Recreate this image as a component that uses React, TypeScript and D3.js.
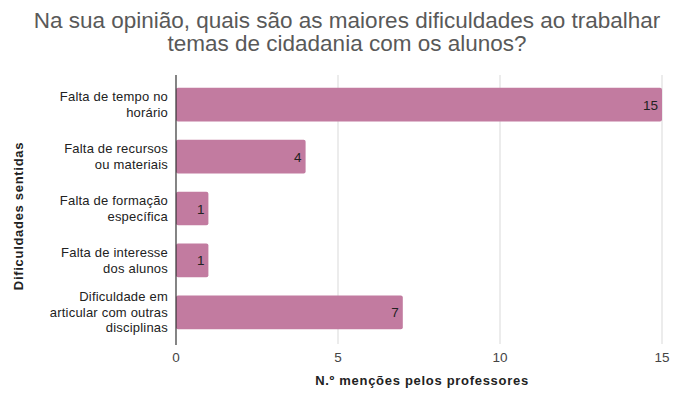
import React, { useEffect, useRef } from "react";
import * as d3 from "d3";

const categories = [
  "Falta de tempo no horário",
  "Falta de recursos ou materiais",
  "Falta de formação específica",
  "Falta de interesse dos alunos",
  "Dificuldade em articular com outras disciplinas",
];
const categoryLines = [
  ["Falta de tempo no", "horário"],
  ["Falta de recursos", "ou materiais"],
  ["Falta de formação", "específica"],
  ["Falta de interesse", "dos alunos"],
  ["Dificuldade em", "articular com outras", "disciplinas"],
];
const mentions = [15, 4, 1, 1, 7];
const xTicks = [0, 5, 10, 15];

export default function App() {
  const svgRef = useRef<SVGSVGElement>(null);

  useEffect(() => {
    const svg = d3.select(svgRef.current);
    svg.selectAll("*").remove();
    const font = "'Liberation Sans', Arial, sans-serif";

    var x = d3.scaleLinear().domain([0, 15]).range([176, 662]);
    var y = d3
      .scaleBand<string>()
      .domain(categories)
      .range([79, 338])
      .paddingInner(0.35)
      .paddingOuter(0.17);

    // title
    svg
      .append("text")
      .attr("x", 347)
      .attr("y", 28)
      .attr("text-anchor", "middle")
      .attr("font-family", font)
      .attr("font-size", 22.5)
      .attr("fill", "#595959")
      .selectAll("tspan")
      .data([
        "Na sua opinião, quais são as maiores dificuldades ao trabalhar",
        "temas de cidadania com os alunos?",
      ])
      .enter()
      .append("tspan")
      .attr("x", 347)
      .attr("dy", (d, i) => (i === 0 ? 0 : 23))
      .text((d) => d);

    // grid
    svg
      .selectAll(".grid")
      .data(xTicks.slice(1))
      .enter()
      .append("line")
      .attr("x1", (d) => x(d))
      .attr("x2", (d) => x(d))
      .attr("y1", 75)
      .attr("y2", 344)
      .attr("stroke", "#d9d9d9")
      .attr("stroke-width", 1);

    // bars
    svg
      .selectAll(".bar")
      .data(mentions)
      .enter()
      .append("rect")
      .attr("x", x(0))
      .attr("y", (d, i) => y(categories[i]) ?? 0)
      .attr("width", (d) => x(d) - x(0))
      .attr("height", y.bandwidth())
      .attr("rx", 2)
      .attr("fill", "#c27ba0");

    // value labels
    svg
      .selectAll(".val")
      .data(mentions)
      .enter()
      .append("text")
      .attr("x", (d) => x(d) - 4)
      .attr("y", (d, i) => (y(categories[i]) ?? 0) + y.bandwidth() / 2 + 5)
      .attr("text-anchor", "end")
      .attr("font-family", font)
      .attr("font-size", 13.5)
      .attr("fill", "#222")
      .text((d) => d);

    // axis line
    svg
      .append("line")
      .attr("x1", x(0))
      .attr("x2", x(0))
      .attr("y1", 75)
      .attr("y2", 345)
      .attr("stroke", "#333")
      .attr("stroke-width", 1.2);

    // category labels
    categoryLines.forEach((lines, i) => {
      const cy = (y(categories[i]) ?? 0) + y.bandwidth() / 2;
      const lh = 15.5;
      const top = cy - ((lines.length - 1) * lh) / 2 + 4.5;
      svg
        .append("text")
        .attr("text-anchor", "end")
        .attr("font-family", font)
        .attr("font-size", 13)
        .attr("letter-spacing", 0.2)
        .attr("fill", "#222")
        .selectAll("tspan")
        .data(lines)
        .enter()
        .append("tspan")
        .attr("x", 168)
        .attr("y", (d, j) => top + j * lh)
        .text((d) => d);
    });

    // x tick labels
    svg
      .selectAll(".tick")
      .data(xTicks)
      .enter()
      .append("text")
      .attr("x", (d) => x(d))
      .attr("y", 362)
      .attr("text-anchor", "middle")
      .attr("font-family", font)
      .attr("font-size", 13.5)
      .attr("fill", "#444")
      .text((d) => d);

    // axis titles
    svg
      .append("text")
      .attr("x", 422)
      .attr("y", 385)
      .attr("text-anchor", "middle")
      .attr("font-family", font)
      .attr("font-size", 13)
      .attr("font-weight", "bold")
      .attr("letter-spacing", 0.7)
      .attr("fill", "#222")
      .text("N.º menções pelos professores");

    svg
      .append("text")
      .attr("transform", "translate(23,216) rotate(-90)")
      .attr("text-anchor", "middle")
      .attr("font-family", font)
      .attr("font-size", 13)
      .attr("font-weight", "bold")
      .attr("letter-spacing", 0.7)
      .attr("fill", "#222")
      .text("Dificuldades sentidas");
  }, []);

  return (
    <svg
      ref={svgRef}
      width={675}
      height={400}
      style={{ position: "absolute", left: 0, top: 0, background: "#fff" }}
    ></svg>
  );
}
